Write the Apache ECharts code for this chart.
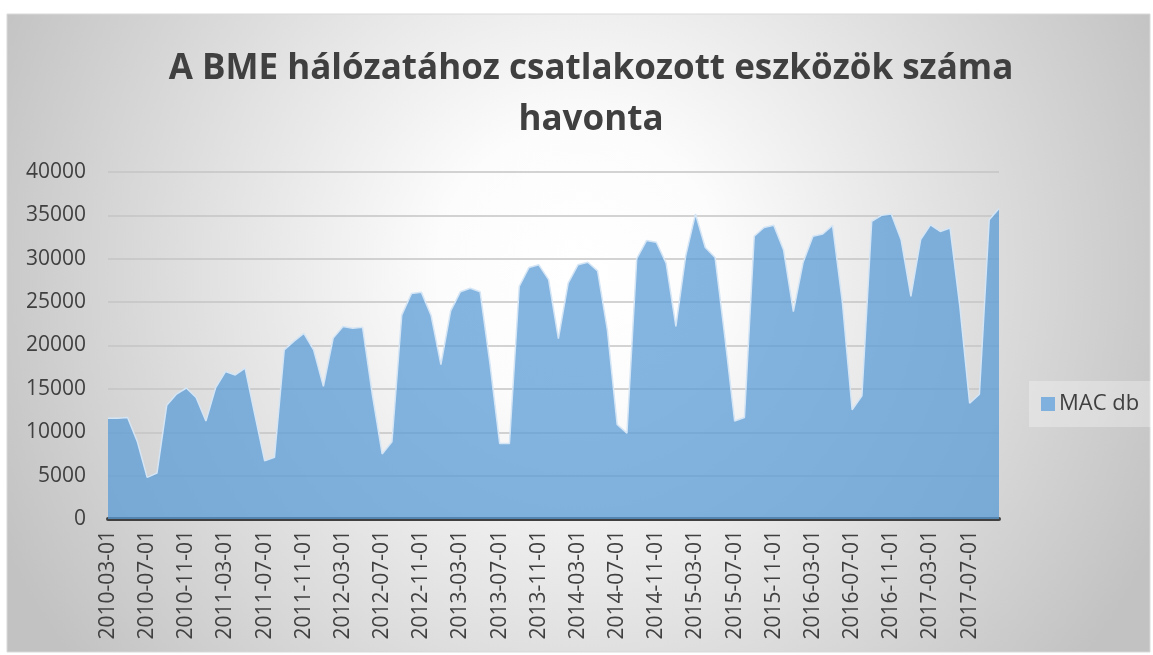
<!DOCTYPE html>
<html>
<head>
<meta charset="utf-8">
<script src="https://cdn.jsdelivr.net/npm/echarts@6/dist/echarts.min.js"></script>
<style>
  html, body { margin: 0; padding: 0; background: #fff; }
  #main { width: 1153px; height: 655px; }
</style>
</head>
<body>
<div id="main"></div>
<script>
// monthly counts, 2010-03 .. 2017-10
var startYear = 2010, startMonth = 3, monthCount = 92;
var macCounts = [
	11600, 11600, 11700, 8900, 4800, 5300, 13100, 14400, 15100, 14000,
	11300, 15150, 17000, 16600, 17400, 12000, 6700, 7100, 19500, 20500,
	21400, 19500, 15300, 20850, 22200, 22000, 22100, 14300, 7500, 8900,
	23500, 26000, 26150, 23450, 17800, 24000, 26200, 26600, 26200, 18000,
	8700, 8700, 26800, 29000, 29300, 27600, 20800, 27200, 29300, 29600,
	28600, 21800, 10900, 9900, 30000, 32100, 31900, 29500, 22200, 30300,
	35150, 31300, 30150, 21000, 11300, 11700, 32600, 33600, 33850, 31000,
	23900, 29600, 32600, 32850, 33850, 25000, 12600, 14200, 34300, 35000,
	35150, 32200, 25650, 32200, 33900, 33150, 33550, 24500, 13350, 14400,
	34500, 35800
];
var yTicks = [0, 40000, 5000]; // min, max, step

var months = [];
for (var i = 0; i < monthCount; i++) {
	var m = startMonth - 1 + i;
	var y = startYear + Math.floor(m / 12);
	var mm = (m % 12) + 1;
	months.push(y + '-' + (mm < 10 ? '0' + mm : mm) + '-01');
}

var chartDom = document.getElementById('main');
var myChart = echarts.init(chartDom);
var fontName = '"Open Sans", "Noto Sans", sans-serif';

var option = {
	animation: false,
	backgroundColor: '#fff',
	graphic: [{
		type: 'rect',
		z: -10,
		shape: { x: 7, y: 14, width: 1143, height: 638 },
		style: {
			fill: {
				type: 'radial', x: 0.5, y: 0.4, r: 1.0,
				colorStops: [
					{ offset: 0, color: '#ffffff' },
					{ offset: 0.22, color: '#fcfcfc' },
					{ offset: 1, color: '#c2c2c2' }
				]
			},
			stroke: '#d9d9d9',
			lineWidth: 1
		}
	}],
	title: {
		text: 'A BME hálózatához csatlakozott eszközök száma\nhavonta',
		left: 586,
		top: 39,
		textAlign: 'center',
		textStyle: {
			fontFamily: fontName,
			fontWeight: 'bold',
			fontSize: 35,
			lineHeight: 51,
			color: '#404040'
		}
	},
	legend: {
		orient: 'vertical',
		left: 1029,
		top: 381,
		padding: [12, 12, 12, 12],
		backgroundColor: 'rgba(255,255,255,0.3)',
		itemWidth: 14,
		itemHeight: 14,
		itemGap: 6,
		data: [{ name: 'MAC db', icon: 'rect' }],
		textStyle: { fontFamily: fontName, fontSize: 22, color: '#404040', padding: [0, 0, 0, -1] }
	},
	grid: {
		left: 108,
		right: 154,
		top: 172,
		bottom: 136
	},
	xAxis: {
		type: 'category',
		data: months,
		boundaryGap: false,
		axisLine: { lineStyle: { color: '#404040', width: 4 } },
		axisTick: { show: false },
		axisLabel: {
			interval: 3,
			rotate: 90,
			margin: 11,
			fontFamily: fontName,
			fontSize: 21,
			color: '#404040'
		},
		splitLine: { show: false }
	},
	yAxis: {
		type: 'value',
		min: yTicks[0],
		max: yTicks[1],
		interval: yTicks[2],
		axisLine: { show: false },
		axisTick: { show: false },
		axisLabel: {
			margin: 22,
			fontFamily: fontName,
			fontSize: 21,
			color: '#404040',
			formatter: function (v) { return String(v); }
		},
		splitLine: { lineStyle: { color: '#c4c4c4', width: 1.5 } }
	},
	series: [{
		name: 'MAC db',
		type: 'line',
		data: macCounts,
		symbol: 'none',
		z: 1,
		lineStyle: { color: '#d4e5f5', width: 1.5 },
		itemStyle: { color: '#7fb0de' },
		areaStyle: { color: '#5b9bd5', opacity: 0.75 }
	}]
};

myChart.setOption(option);
</script>
</body>
</html>
